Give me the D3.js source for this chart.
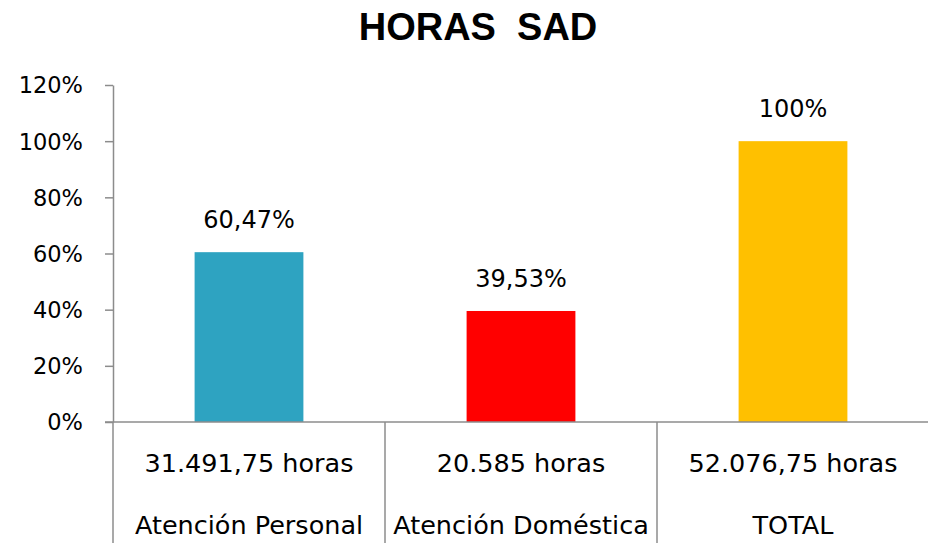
<!DOCTYPE html>
<html>
<head>
<meta charset="utf-8">
<script src="https://cdn.jsdelivr.net/npm/d3@7"></script>
<style>
  body { margin: 0; background: #fff; }
  text { font-family: "DejaVu Sans", sans-serif; fill: #000; }
</style>
</head>
<body>
<div id="chart"></div>
<script>
var categories = ["Atención Personal", "Atención Doméstica", "TOTAL"];
var hours = ["31.491,75 horas", "20.585 horas", "52.076,75 horas"];
var values = [60.47, 39.53, 100];
var valueLabels = ["60,47%", "39,53%", "100%"];
var colors = ["#2EA3C1", "#FF0000", "#FFC000"];
var yTicks = [0, 20, 40, 60, 80, 100, 120];

var width = 928, height = 543;
var margin = { left: 113, right: -1, top: 85, bottom: 121 };

var svg = d3.select("#chart").append("svg")
  .attr("width", width)
  .attr("height", height);

var x = d3.scaleBand()
  .domain(categories)
  .range([margin.left, width - margin.right])
  .paddingInner(0)
  .paddingOuter(0);

var y = d3.scaleLinear()
  .domain([0, 120])
  .range([height - margin.bottom, margin.top]);

var barW = x.bandwidth() * 0.4;

// title (double space kept)
svg.append("text")
  .attr("x", 478)
  .attr("y", 40)
  .attr("text-anchor", "middle")
  .attr("xml:space", "preserve")
  .style("white-space", "pre")
  .style("font-family", "'Liberation Sans', Arial, sans-serif")
  .style("font-weight", "bold")
  .style("font-size", "38px")
  .text("HORAS  SAD");

// bars
svg.append("g").selectAll("rect")
  .data(values)
  .enter().append("rect")
  .attr("x", function(d, i) { return x(categories[i]) + (x.bandwidth() - barW) / 2; })
  .attr("y", function(d) { return y(d); })
  .attr("width", barW)
  .attr("height", function(d) { return y(0) - y(d); })
  .attr("fill", function(d, i) { return colors[i]; });

// value labels
svg.append("g").selectAll("text")
  .data(values)
  .enter().append("text")
  .attr("x", function(d, i) { return x(categories[i]) + x.bandwidth() / 2; })
  .attr("y", function(d) { return y(d) - 24; })
  .attr("text-anchor", "middle")
  .style("font-size", "24px")
  .text(function(d, i) { return valueLabels[i]; });

// y axis
var yAxis = svg.append("g")
  .attr("transform", "translate(" + margin.left + ",0)")
  .call(d3.axisLeft(y).tickValues(yTicks).tickSize(8).tickSizeOuter(0)
    .tickFormat(function(d) { return d + "%"; }));
yAxis.select(".domain").attr("stroke", "#8c8c8c").attr("stroke-width", 1.5);
yAxis.selectAll(".tick line").attr("stroke", "#8c8c8c").attr("stroke-width", 1.5);
yAxis.selectAll(".tick text")
  .attr("x", -30)
  .attr("dy", "0.35em")
  .style("font-family", "'DejaVu Sans', sans-serif")
  .style("font-size", "22.5px")
  .attr("fill", "#000");

// x axis baseline + table-like dividers
var base = y(0);
svg.append("line")
  .attr("x1", margin.left - 8).attr("x2", width)
  .attr("y1", base).attr("y2", base)
  .attr("stroke", "#8c8c8c").attr("stroke-width", 1.5);

var dividers = categories.map(function(c) { return x(c); });
svg.append("g").selectAll("line")
  .data(dividers)
  .enter().append("line")
  .attr("x1", function(d) { return d; })
  .attr("x2", function(d) { return d; })
  .attr("y1", base)
  .attr("y2", height)
  .attr("stroke", "#8c8c8c")
  .attr("stroke-width", 1.5);

// category labels (two rows)
var cat = svg.append("g").selectAll("g")
  .data(categories)
  .enter().append("g");

cat.append("text")
  .attr("x", function(d) { return x(d) + x.bandwidth() / 2; })
  .attr("y", 472)
  .attr("text-anchor", "middle")
  .style("font-size", "25.5px")
  .text(function(d, i) { return hours[i]; });

cat.append("text")
  .attr("x", function(d) { return x(d) + x.bandwidth() / 2; })
  .attr("y", 534)
  .attr("text-anchor", "middle")
  .style("font-size", "25.5px")
  .text(function(d) { return d; });
</script>
</body>
</html>
